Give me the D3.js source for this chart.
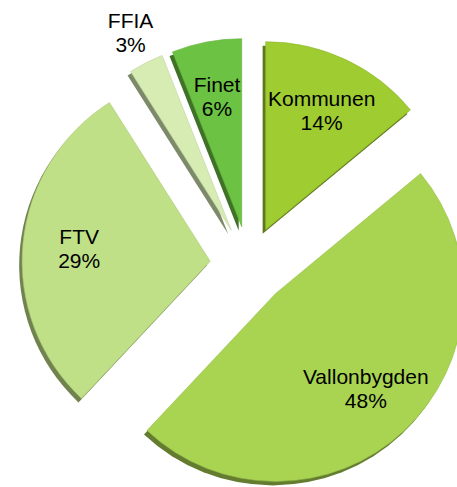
<!DOCTYPE html>
<html>
<head>
<meta charset="utf-8">
<script src="https://cdn.jsdelivr.net/npm/d3@7/dist/d3.min.js"></script>
<style>
  body { margin: 0; background: #ffffff; }
  #pie-container text { font-family: "Liberation Sans", Arial, sans-serif; font-size: 21px; fill: #000; }
</style>
</head>
<body>
<div id="pie-container"></div>
<script>
// slice data, clockwise from 12 o'clock
const labels = ['Kommunen', 'Vallonbygden', 'FTV', 'FFIA', 'Finet'];
const values = [14, 48, 29, 3, 6];
const colors = ['#9ecc31', '#a9d452', '#bfe087', '#d6ecb3', '#6cc242'];

const width = 457;
const height = 487;
const cx = 249, cy = 265;
const outerRadius = 188;
const explode = 39;
const depth = { x: -3, y: 4 };

const data = labels.map((label, i) => ({ label, value: values[i], color: colors[i] }));
const total = d3.sum(values);

const svg = d3.select('#pie-container')
  .append('svg')
  .attr('width', width)
  .attr('height', height)
  .append('g')
  .attr('transform', `translate(${cx}, ${cy})`);

const arcGenerator = d3.arc()
  .innerRadius(0)
  .outerRadius(outerRadius);

const labelArc = d3.arc()
  .innerRadius(outerRadius * 0.7)
  .outerRadius(outerRadius * 0.7);

const outsideArc = d3.arc()
  .innerRadius(outerRadius * 1.18)
  .outerRadius(outerRadius * 1.18);

const pieGenerator = d3.pie()
  .sort(null)
  .value((d) => d.value);

const arcs = pieGenerator(data);

// offset of each slice away from the centre
function shift(d) {
  const mid = (d.startAngle + d.endAngle) / 2;
  return [explode * Math.sin(mid), -explode * Math.cos(mid)];
}

const slice = svg.selectAll('g.slice')
  .data(arcs)
  .enter()
  .append('g')
  .attr('class', 'slice')
  .attr('transform', (d) => {
    const [x, y] = shift(d);
    return `translate(${x}, ${y})`;
  });

// side (thickness) of the 3d slice
slice.append('path')
  .attr('d', arcGenerator)
  .attr('transform', `translate(${depth.x}, ${depth.y})`)
  .style('fill', (d) => d3.color(d.data.color).darker(1.5))
  .style('stroke', 'none');

// top face
slice.append('path')
  .attr('d', arcGenerator)
  .style('fill', (d) => d.data.color)
  .style('stroke', (d) => d3.color(d.data.color).darker(0.3))
  .style('stroke-width', 0.6);

// labels
const text = slice.append('text')
  .attr('text-anchor', 'middle')
  .attr('transform', (d) => {
    const small = d.value / total < 0.05;
    const [x, y] = (small ? outsideArc : labelArc).centroid(d);
    return `translate(${x}, ${y})`;
  });

text.append('tspan')
  .attr('x', 0)
  .attr('y', -5)
  .text((d) => d.data.label);

text.append('tspan')
  .attr('x', 0)
  .attr('y', 19)
  .text((d) => Math.round(d.value / total * 100) + '%');
</script>
</body>
</html>
